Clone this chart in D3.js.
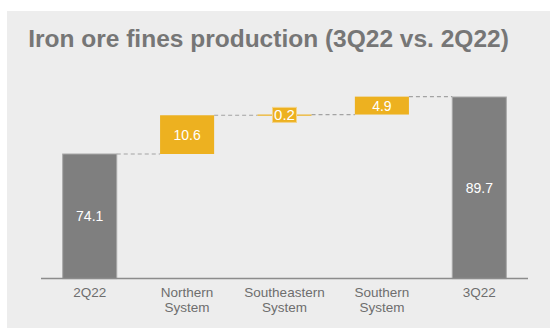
<!DOCTYPE html>
<html>
<head>
<meta charset="utf-8">
<script src="https://cdn.jsdelivr.net/npm/d3@7"></script>
<style>
  body { margin: 0; background: #fff; }
  svg { display: block; font-family: "Liberation Sans", Arial, sans-serif; }
</style>
</head>
<body>
<div id="chart"></div>
<script>
// data
var categories = ["2Q22", "Northern System", "Southeastern System", "Southern System", "3Q22"];
var values = [74.1, 10.6, 0.2, 4.9, 89.7];
var kinds = ["total", "delta", "delta", "delta", "total"];
var valueLabels = ["74.1", "10.6", "0.2", "4.9", "89.7"];

var W = 550, H = 329;

var svg = d3.select("#chart")
  .append("svg")
    .attr("width", W)
    .attr("height", H);

// panel background
svg.append("rect")
  .attr("x", 7).attr("y", 11)
  .attr("width", W - 7).attr("height", H - 12)
  .attr("fill", "#ededed");

svg.append("text")
  .attr("x", 268.5)
  .attr("y", 47)
  .attr("text-anchor", "middle")
  .attr("font-size", "24.5px")
  .attr("font-weight", "bold")
  .attr("fill", "#767676")
  .text("Iron ore fines production (3Q22 vs. 2Q22)");

// scales
var x = d3.scaleBand()
  .domain(categories)
  .range([41, 528])
  .paddingInner(0.445)
  .paddingOuter(0.2225);

var y = d3.scaleLinear()
  .domain([40, 90])
  .range([278.6, 95.9]);

// waterfall steps
var run = 0;
var steps = categories.map(function(c, i) {
  var s;
  if (kinds[i] === "total") {
    s = { cat: c, lo: y.domain()[0], hi: values[i], kind: "total" };
    run = values[i];
  } else {
    s = { cat: c, lo: run, hi: run + values[i], kind: "delta" };
    run = run + values[i];
  }
  s.label = valueLabels[i];
  return s;
});

// dashed connectors
var g = svg.append("g");
steps.forEach(function(s, i) {
  if (i === steps.length - 1) return;
  var n = steps[i + 1];
  g.append("line")
    .attr("x1", x(s.cat) + x.bandwidth())
    .attr("x2", x(n.cat))
    .attr("y1", y(s.hi))
    .attr("y2", y(s.hi))
    .attr("stroke", "#a3a3a3")
    .attr("stroke-width", 1.2)
    .attr("stroke-dasharray", "4,3");
});

// bars
g.selectAll(".bar")
  .data(steps)
  .enter().append("rect")
    .attr("class", "bar")
    .attr("x", function(d) { return x(d.cat); })
    .attr("width", x.bandwidth())
    .attr("y", function(d) { return y(d.hi); })
    .attr("height", function(d) { return Math.max(1.2, y(d.lo) - y(d.hi)); })
    .attr("fill", function(d) { return d.kind === "total" ? "#7f7f7f" : "#edb120"; })
    .attr("stroke", function(d) { return d.kind === "total" ? "#a9a9a9" : "none"; })
    .attr("stroke-width", 1);

// small delta gets a boxed label
steps.forEach(function(s) {
  var cx = x(s.cat) + x.bandwidth() / 2,
      cy = (y(s.lo) + y(s.hi)) / 2;
  if (y(s.lo) - y(s.hi) < 12) {
    g.append("rect")
      .attr("x", cx - 12).attr("y", cy - 7.5)
      .attr("width", 24).attr("height", 15)
      .attr("fill", "#edb120")
      .attr("stroke", "#f3d38a")
      .attr("stroke-width", 1);
    g.append("text")
      .attr("x", cx).attr("y", cy)
      .attr("dy", "0.36em")
      .attr("text-anchor", "middle")
      .attr("font-size", "15px")
      .attr("fill", "#fff")
      .text(s.label);
  } else {
    g.append("text")
      .attr("x", cx).attr("y", cy)
      .attr("dy", "0.36em")
      .attr("text-anchor", "middle")
      .attr("font-size", "14px")
      .attr("fill", "#fff")
      .text(s.label);
  }
});

// baseline
svg.append("line")
  .attr("x1", 41).attr("x2", 528)
  .attr("y1", y(40)).attr("y2", y(40))
  .attr("stroke", "#8c8c8c")
  .attr("stroke-width", 1.5);

// category labels, split on space
var lab = svg.selectAll(".cat")
  .data(categories)
  .enter().append("text")
    .attr("class", "cat")
    .attr("text-anchor", "middle")
    .attr("font-size", "13.5px")
    .attr("fill", "#6e6e6e")
    .attr("y", 297);

lab.each(function(c) {
  var t = d3.select(this);
  c.split(" ").forEach(function(w, k) {
    t.append("tspan")
      .attr("x", x(c) + x.bandwidth() / 2)
      .attr("dy", k === 0 ? 0 : 15)
      .text(w);
  });
});
</script>
</body>
</html>
